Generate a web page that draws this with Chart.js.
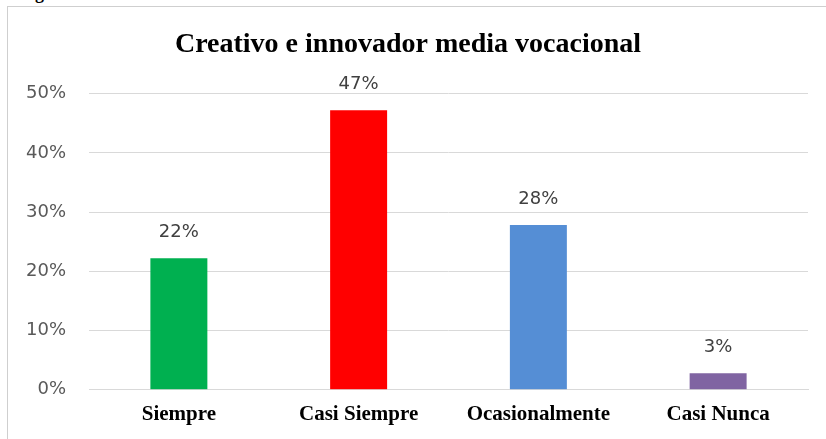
<!DOCTYPE html>
<html>
<head>
<meta charset="utf-8">
<script src="https://cdn.jsdelivr.net/npm/chart.js@4.4.1/dist/chart.umd.min.js"></script>
<style>
    body { margin: 0; background: #fff; overflow: hidden; }
    #caption { position: absolute; left: 19px; top: -15px; font: bold 18px "Liberation Serif", "Times New Roman", serif; line-height: 16px; color: #000; white-space: nowrap; word-spacing: 6px; }
    #box { position: absolute; left: 7px; top: 6px; width: 830px; height: 440px; border-top: 1px solid #cfcfcf; border-left: 1px solid #cfcfcf; background: #fff; }
    #wrap { position: absolute; left: 0; top: 0; width: 819px; height: 433px; }
</style>
</head>
<body>
<div id="caption">Figura 8. Creativo e innovador media vocacional</div>
<div id="box">
    <div id="wrap"><canvas id="Vocacional"></canvas></div>
</div>
<script>
    var categorias = ['Siempre', 'Casi Siempre', 'Ocasionalmente', 'Casi Nunca'];
    var porcentajes = [22.2, 47.2, 27.8, 2.8];
    var colores = ['#00B050', '#FF0000', '#558ED5', '#8064A2'];
    var ticksY = [0, 10, 20, 30, 40, 50];

    var sansFont = '"DejaVu Sans", sans-serif';
    var serifFont = '"Liberation Serif", "Times New Roman", serif';

    // etiquetas de valor encima de cada barra
    var etiquetas = {
        id: 'etiquetas',
        afterDatasetsDraw: function (chart) {
            var ctx = chart.ctx;
            var meta = chart.getDatasetMeta(0);
            ctx.save();
            ctx.font = '18px ' + sansFont;
            ctx.fillStyle = '#404040';
            ctx.textAlign = 'center';
            ctx.textBaseline = 'middle';
            meta.data.forEach(function (bar, i) {
                ctx.fillText(Math.round(porcentajes[i]) + '%', bar.x, bar.y - 25.5);
            });
            ctx.restore();
        }
    };

    new Chart(document.getElementById('Vocacional'), {
        type: 'bar',
        data: {
            labels: categorias,
            datasets: [
                {
                    label: 'Creativo e innovador media vocacional',
                    backgroundColor: colores,
                    data: porcentajes,
                    barPercentage: 0.317,
                    categoryPercentage: 1
                }
            ]
        },
        options: {
            responsive: true,
            maintainAspectRatio: false,
            animation: false,
            layout: {
                padding: { left: 0, right: 19, top: 0, bottom: 9 }
            },
            plugins: {
                legend: { display: false },
                tooltip: { enabled: false },
                title: {
                    display: true,
                    text: 'Creativo e innovador media vocacional',
                    color: '#000',
                    font: { family: serifFont, size: 28, weight: 'bold' },
                    padding: { top: 21, bottom: 32 }
                }
            },
            scales: {
                x: {
                    grid: { display: false },
                    border: { display: true, color: '#d9d9d9', width: 1 },
                    ticks: {
                        color: '#000',
                        padding: 4,
                        font: { family: serifFont, size: 21, weight: 'bold' }
                    }
                },
                y: {
                    min: 0,
                    max: 50,
                    afterFit: function (scale) { scale.width = 81; },
                    afterBuildTicks: function (scale) {
                        scale.ticks = ticksY.map(function (v) { return { value: v }; });
                    },
                    border: { display: false },
                    grid: { color: '#d9d9d9', lineWidth: 1, drawTicks: false },
                    ticks: {
                        color: '#595959',
                        padding: 23,
                        font: { family: sansFont, size: 18 },
                        callback: function (v) { return v + '%'; }
                    }
                }
            }
        },
        plugins: [etiquetas]
    });
</script>
</body>
</html>
